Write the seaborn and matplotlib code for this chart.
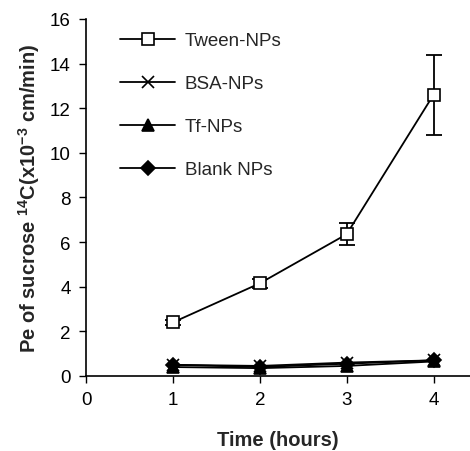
import pandas as pd
import matplotlib
matplotlib.use('Agg')
import matplotlib.pyplot as plt
import seaborn as sns

# data
time = [1, 2, 3, 4]
tween = [2.4, 4.15, 6.35, 12.6]
tween_err = [0.12, 0.2, 0.5, 1.8]
bsa = [0.5, 0.45, 0.6, 0.7]
tf = [0.4, 0.35, 0.45, 0.65]
blank = [0.5, 0.4, 0.55, 0.7]
labels = ['Tween-NPs', 'BSA-NPs', 'Tf-NPs', 'Blank NPs']

df = pd.DataFrame({
    'time': time * 4,
    'pe': tween + bsa + tf + blank,
    'group': [l for l in labels for _ in time],
})

sns.set_style('ticks')
plt.rcParams['font.family'] = ['Liberation Sans', 'DejaVu Sans']
plt.rcParams['mathtext.fontset'] = 'custom'
plt.rcParams['mathtext.rm'] = 'Liberation Sans'
plt.rcParams['mathtext.bf'] = 'Liberation Sans:bold'

fig = plt.figure(figsize=(4.7, 4.52), dpi=100)
ax = fig.add_axes([0.183, 0.166, 0.817, 0.79])

markers = {'Tween-NPs': 's', 'BSA-NPs': 'x', 'Tf-NPs': '^', 'Blank NPs': 'D'}
faces = {'Tween-NPs': 'white', 'BSA-NPs': 'black', 'Tf-NPs': 'black', 'Blank NPs': 'black'}
sizes = {'Tween-NPs': 8, 'BSA-NPs': 9, 'Tf-NPs': 8, 'Blank NPs': 7}

# draw in reverse so Tween sits on top
for lab in labels[::-1]:
    sub = df[df['group'] == lab]
    sns.lineplot(x='time', y='pe', data=sub, ax=ax, color='black', lw=1.3,
                 marker=markers[lab], markersize=sizes[lab], markerfacecolor=faces[lab],
                 markeredgecolor='black', markeredgewidth=1.2, label=lab)

ax.errorbar(time, tween, yerr=tween_err, fmt='none', ecolor='black',
            elinewidth=1.3, capsize=6, capthick=1.3, zorder=1)

ax.set_xlim(0, 4.42)
ax.set_ylim(0, 16)
ax.set_xticks([0, 1, 2, 3, 4])
ax.set_yticks(range(0, 17, 2))
ax.tick_params(labelsize=13.5, width=1, length=5, pad=6, color='black', labelcolor='black')
for s in ['left', 'bottom']:
    ax.spines[s].set_color('black')
    ax.spines[s].set_linewidth(1.2)
sns.despine(ax=ax)

ax.set_xlabel('Time (hours)', fontsize=14.5, fontweight='bold', labelpad=16)
ax.set_ylabel('Pe of sucrose $^{\\mathbf{14}}$C(x10$^{\\mathbf{-3}}$ cm/min)',
              fontsize=14.5, fontweight='bold', labelpad=6)

h, l = ax.get_legend_handles_labels()
order = [l.index(x) for x in labels]
ax.legend([h[i] for i in order], labels, loc='upper left', frameon=False,
          fontsize=13.5, handlelength=2.95, labelspacing=1.38,
          bbox_to_anchor=(0.045, 1.01), handletextpad=0.5)

plt.savefig('out.png', dpi=100)
